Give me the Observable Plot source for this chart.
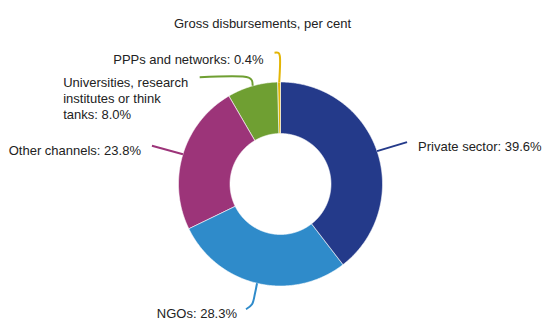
<!DOCTYPE html>
<html><head><meta charset="utf-8">
<script src="https://cdn.jsdelivr.net/npm/d3@7"></script>
<script src="https://cdn.jsdelivr.net/npm/@observablehq/plot@0.6"></script>
<style>
html,body{margin:0;padding:0;background:#fff;}
body{font-family:"Liberation Sans",Arial,sans-serif;}
</style>
</head><body><div id="chart"></div>
<script>
// ---- data ----
const title = "Gross disbursements, per cent";
const channels = ["Private sector", "NGOs", "Other channels", "Universities, research institutes or think tanks", "PPPs and networks"];
const labelTexts = ["Private sector: 39.6%", "NGOs: 28.3%", "Other channels: 23.8%", "Universities, research\ninstitutes or think\ntanks: 8.0%", "PPPs and networks: 0.4%"];
const shares = [39.6, 28.3, 23.8, 8.0, 0.4];
const colors = ["#243a8a", "#2f8bca", "#9c3479", "#6f9f32", "#e3b505"];

// ---- layout ----
const W = 542, H = 320, CX = 280, CY = 183.5, R = 102, INNER = 0.495;
// leader line shape (px offsets from slice edge midpoint) and label offset
const leaderLayout = [
  {pts: [[0,0],[30,-9]], text: [41,-5], anchor: "start"},
  {pts: [[0,0],[-2,10],[-5,21],[-11,26]], text: [-20,30], anchor: "end"},
  {pts: [[0,0],[-31,-8.5]], text: [-42,-4.7], anchor: "end"},
  {pts: [[0,0],[-0.8,-5.5],[-4,-8.3],[-53,-8.5]], text: [-189.5,12.3], anchor: "start"},
  {pts: [[0,0],[0.6,-26],[-0.6,-29],[-4.7,-29.3]], text: [-15.7,-23.5], anchor: "end"}
];

const arcs = d3.pie().sort(null).value(d => d).startAngle(0).endAngle(2 * Math.PI)(shares);

const slicePts = [];
arcs.forEach((a, i) => {
  const n = Math.max(2, Math.ceil((a.endAngle - a.startAngle) / (Math.PI / 360)));
  for (let k = 0; k <= n; k++) {
    const t = a.startAngle + (a.endAngle - a.startAngle) * k / n;
    slicePts.push({c: channels[i], x: Math.sin(t), y: Math.cos(t)});
  }
  for (let k = n; k >= 0; k--) {
    const t = a.startAngle + (a.endAngle - a.startAngle) * k / n;
    slicePts.push({c: channels[i], x: INNER * Math.sin(t), y: INNER * Math.cos(t)});
  }
});

const leaderPts = [];
const labels = [];
arcs.forEach((a, i) => {
  const m = (a.startAngle + a.endAngle) / 2;
  const ax = Math.sin(m), ay = Math.cos(m);
  const L = leaderLayout[i];
  L.pts.forEach(([dx, dy]) => leaderPts.push({c: channels[i], x: ax + dx / R, y: ay - dy / R}));
  labels.push({c: channels[i], text: labelTexts[i], x: ax + L.text[0] / R, y: ay - L.text[1] / R, anchor: L.anchor});
});

const FS = 13;
const plot = Plot.plot({
  width: W, height: H,
  margin: 0,
  x: {domain: [-CX / R, (W - CX) / R], axis: null},
  y: {domain: [-(H - CY) / R, CY / R], axis: null},
  color: {domain: channels, range: colors},
  style: {fontFamily: '"Liberation Sans", Arial, sans-serif', background: "#fff"},
  marks: [
    Plot.line(slicePts, {x: "x", y: "y", z: "c", fill: "c", stroke: "white", strokeWidth: 0.6, curve: "linear-closed"}),
    Plot.line(leaderPts, {x: "x", y: "y", z: "c", stroke: "c", strokeWidth: 2, curve: "catmull-rom", strokeLinecap: "butt"}),
    Plot.text(labels.filter(d => d.anchor === "start"), {x: "x", y: "y", text: "text", textAnchor: "start", fontSize: FS, fill: "#222", lineHeight: 16 / FS}),
    Plot.text(labels.filter(d => d.anchor === "end"), {x: "x", y: "y", text: "text", textAnchor: "end", fontSize: FS, fill: "#222", lineHeight: 16 / FS}),
    Plot.text([title], {frameAnchor: "top", dx: -9, dy: 18.5, text: d => d, fontSize: FS, fill: "#222"})
  ]
});
document.getElementById("chart").appendChild(plot);
</script>
</body></html>
